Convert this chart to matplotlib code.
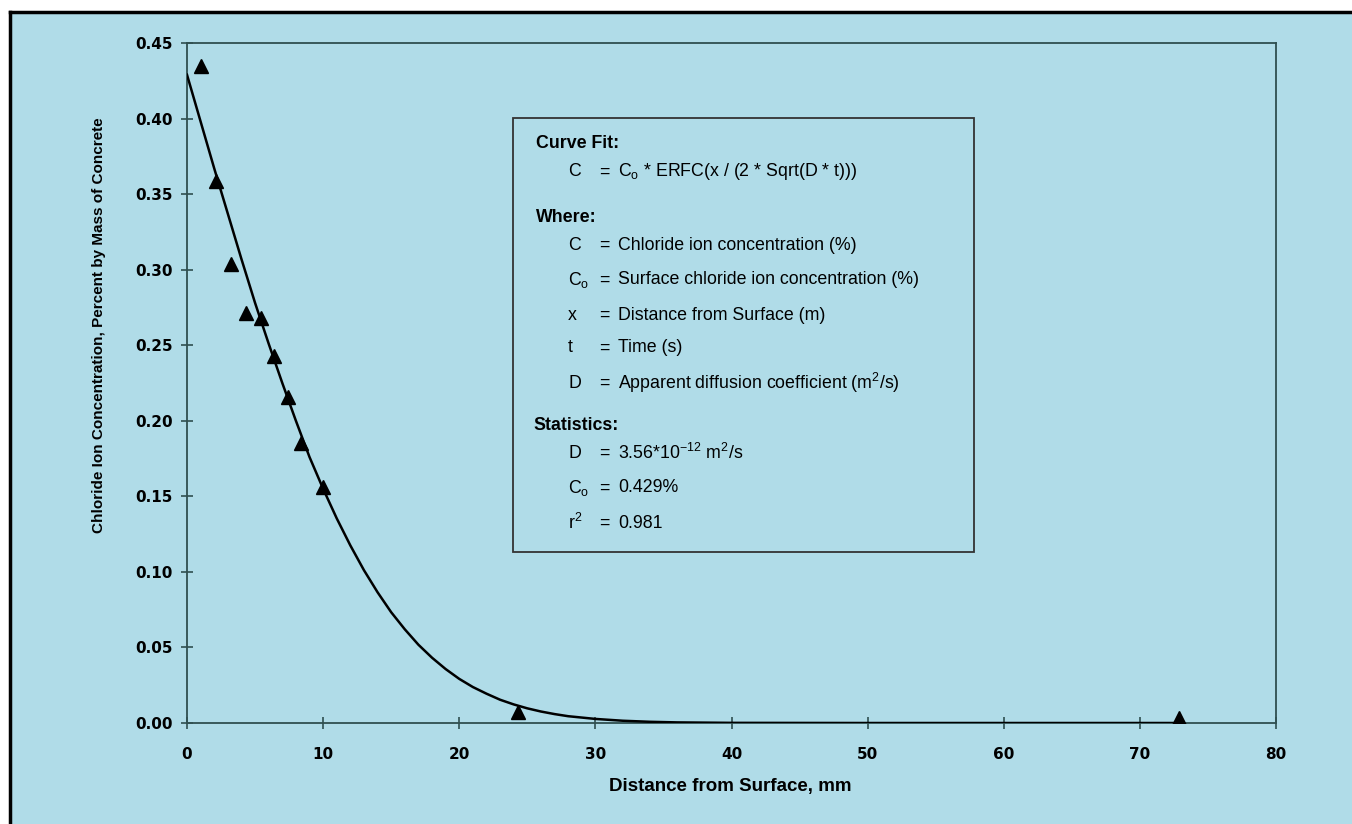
import matplotlib
matplotlib.use("Agg")
import matplotlib.pyplot as plt
from matplotlib.patches import Rectangle
from matplotlib.lines import Line2D

plt.rcParams['font.family'] = ['Liberation Sans', 'DejaVu Sans']
plt.rcParams['mathtext.fontset'] = 'custom'
plt.rcParams['mathtext.rm'] = 'Liberation Sans'
plt.rcParams['mathtext.it'] = 'Liberation Sans:italic'
plt.rcParams['mathtext.bf'] = 'Liberation Sans:bold'

# measured chloride profile (distance mm, % by mass)
depth_mm = [1.0, 2.1, 3.2, 4.3, 5.4, 6.4, 7.4, 8.4, 10.0, 24.3, 72.9]
chloride = [0.435, 0.359, 0.304, 0.271, 0.268, 0.243, 0.216, 0.185, 0.156, 0.007, 0.003]

# fitted erfc curve
fit_x = [0, 1, 2, 3, 4, 5, 6, 7, 8, 9, 10, 11, 12, 13, 14, 15, 16, 17, 18, 19, 20,
         21, 22, 23, 24, 25, 26, 27, 28, 30, 32, 34, 36, 40, 50, 60, 73]
fit_y = [0.429, 0.398, 0.367, 0.337, 0.307, 0.278, 0.251, 0.225, 0.200, 0.176, 0.155,
         0.1354, 0.1175, 0.1011, 0.0865, 0.0733, 0.0620, 0.0518, 0.0432, 0.0357, 0.0292,
         0.0238, 0.0194, 0.0154, 0.0123, 0.0097, 0.0076, 0.0059, 0.0045, 0.0027, 0.0015,
         0.0008, 0.0004, 0.0001, 0.0, 0.0, 0.0]

x_ticks = [0, 10, 20, 30, 40, 50, 60, 70, 80]
y_ticks = [0.00, 0.05, 0.10, 0.15, 0.20, 0.25, 0.30, 0.35, 0.40, 0.45]

BLUE = '#b0dce8'
SPINE = '#2f4f50'
W, H = 1352, 824

fig = plt.figure(figsize=(W / 100, H / 100), dpi=100, facecolor='white')
# blue panel with black left/top edge (scan of a framed figure)
fig.patches.append(Rectangle((10 / W, 0), 1, 1 - 12 / H, transform=fig.transFigure,
                             facecolor=BLUE, edgecolor='none', zorder=-10))
fig.add_artist(Line2D([10 / W, 10 / W], [0, 1 - 12 / H], color='black', lw=2.5))
fig.add_artist(Line2D([10 / W, 1], [1 - 12 / H, 1 - 12 / H], color='black', lw=2.5))

ax = fig.add_axes([187 / W, 1 - 723 / H, 1089 / W, 680 / H])
ax.set_zorder(1)
ax.set_facecolor(BLUE)

ax.plot(fit_x, fit_y, color='black', lw=1.8, zorder=3)
ax.plot(depth_mm, chloride, linestyle='none', marker='^', color='black',
        markersize=10.5, zorder=4)

ax.set_xlim(0, 80)
ax.set_ylim(0, 0.45)
ax.set_xticks(x_ticks)
ax.set_yticks(y_ticks)
ax.set_xticklabels([str(t) for t in x_ticks])
ax.set_yticklabels(['%.2f' % t for t in y_ticks])
for lab in ax.get_xticklabels() + ax.get_yticklabels():
    lab.set_family('DejaVu Sans')
    lab.set_fontweight('bold')
    lab.set_fontsize(11)
ax.tick_params(axis='both', direction='inout', length=8, width=1.2, color=SPINE)
ax.tick_params(axis='x', pad=13)
ax.tick_params(axis='y', pad=6)
for s in ax.spines.values():
    s.set_color(SPINE)
    s.set_linewidth(1.3)

fig.text(730 / W, 1 - 787 / H, 'Distance from Surface, mm', ha='center', va='center',
         fontsize=13.5, fontweight='bold')
fig.text(99 / W, 1 - 325 / H, 'Chloride Ion Concentration, Percent by Mass of Concrete',
         ha='center', va='center', rotation=90, fontsize=11, fontweight='bold')

# curve-fit annotation box
ax.add_patch(Rectangle((0.2994, 0.2515), 0.4233, 0.6382, transform=ax.transAxes,
                       facecolor='none', edgecolor='#333333', lw=1.3, zorder=5))

def px_y(y):
    return (723 - y) / 680.0

def px_x(x):
    return (x - 187) / 1089.0

fs = 12.8
headers = [('Curve Fit:', 536, 143), ('Where:', 536, 217), ('Statistics:', 533, 426)]
for txt, x, y in headers:
    ax.text(px_x(x), px_y(y), txt, transform=ax.transAxes, ha='left', va='center',
            fontsize=fs, fontweight='bold')

rows = [
    ('C', 172, r'C$_\mathrm{o}$ * ERFC(x / (2 * Sqrt(D * t)))'),
    ('C', 245, 'Chloride ion concentration (%)'),
    (r'C$_\mathrm{o}$', 280, 'Surface chloride ion concentration (%)'),
    ('x', 315, 'Distance from Surface (m)'),
    ('t', 348, 'Time (s)'),
    ('D', 383, r'Apparent diffusion coefficient (m$^\mathrm{2}$/s)'),
    ('D', 453, r'3.56*10$^\mathrm{-12}$ m$^\mathrm{2}$/s'),
    (r'C$_\mathrm{o}$', 488, '0.429%'),
    (r'r$^\mathrm{2}$', 523, '0.981'),
]
for sym, y, val in rows:
    ax.text(px_x(568), px_y(y), sym, transform=ax.transAxes, ha='left', va='center', fontsize=fs)
    ax.text(px_x(604), px_y(y), '=', transform=ax.transAxes, ha='center', va='center', fontsize=fs)
    ax.text(px_x(618), px_y(y), val, transform=ax.transAxes, ha='left', va='center', fontsize=fs)

fig.savefig('out.png', dpi=100)
